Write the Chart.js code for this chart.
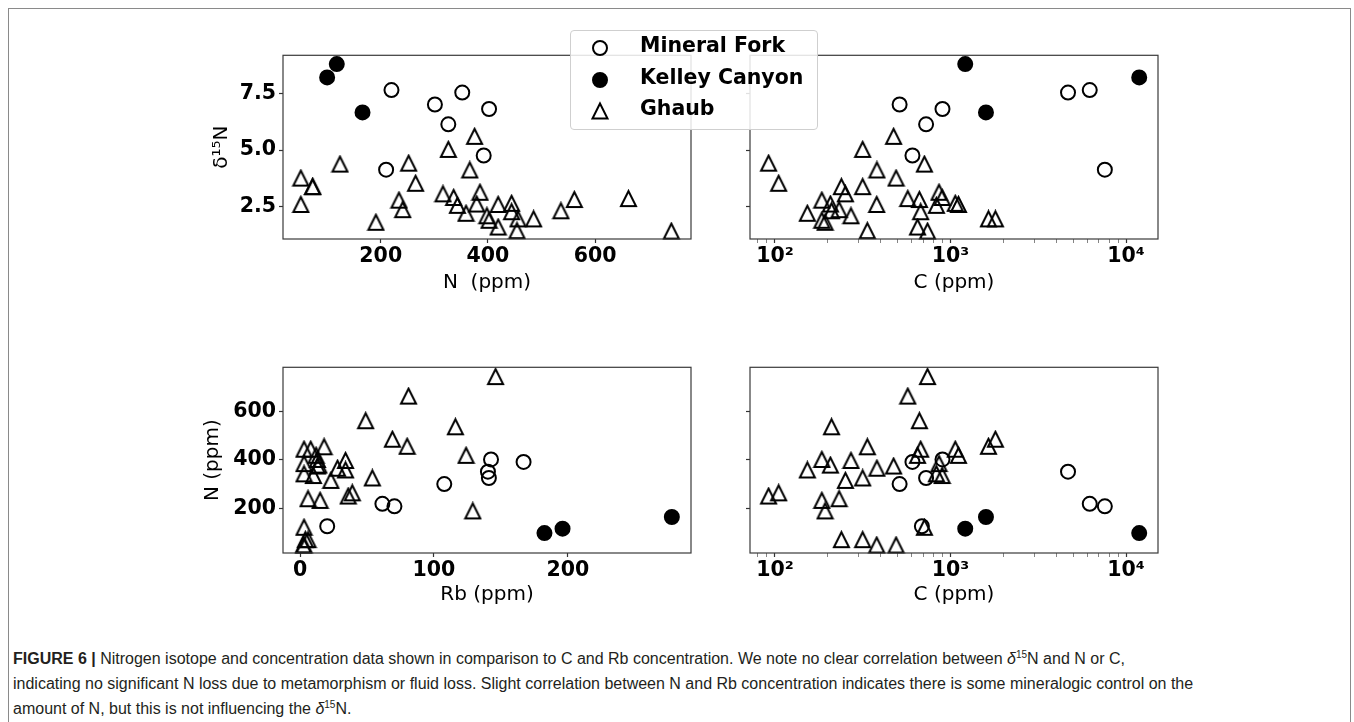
<!DOCTYPE html>
<html>
<head>
<meta charset="utf-8">
<script src="https://cdn.jsdelivr.net/npm/chart.js@4.4.1/dist/chart.umd.min.js"></script>
<style>
  body { margin: 0; background: #fff; width: 1354px; height: 722px; overflow: hidden; position: relative; }
  #frame { position: absolute; left: 8px; top: 8px; width: 1343px; height: 760px; border: 1.5px solid #8a8a8a; box-sizing: border-box; }
  canvas { position: absolute; }
  #legend { position: absolute; left: 570px; top: 30px; width: 248px; height: 100px; box-sizing: border-box;
            border: 1px solid #cfcfcf; border-radius: 4px; background: rgba(255,255,255,0.85); z-index: 5; }
  #legend .row { position: absolute; left: 0; height: 30px; width: 100%; }
  #legend svg { position: absolute; left: 19px; top: 5px; }
  #legend span { position: absolute; left: 69px; top: 0; line-height: 30px; font: bold 20.5px "DejaVu Sans"; color: #000; white-space: nowrap; }
  #caption { position: absolute; left: 13px; top: 646px; font: 16px "Liberation Sans"; line-height: 25px; white-space: nowrap; color: #231f20; }
  #caption sup { font-size: 10px; line-height: 0; }
</style>
</head>
<body>
<div id="frame"></div>
<canvas id="nd15n" width="504" height="270" style="left:196px;top:40px"></canvas>
<canvas id="cd15n" width="470" height="270" style="left:700px;top:40px"></canvas>
<canvas id="rbn" width="504" height="270" style="left:196px;top:352px"></canvas>
<canvas id="cn" width="470" height="270" style="left:700px;top:352px"></canvas>
<div id="legend"></div>
<div id="caption"><b>FIGURE 6 |</b> Nitrogen isotope and concentration data shown in comparison to C and Rb concentration. We note no clear correlation between <i>δ</i><sup>15</sup>N and N or C,<br>indicating no significant N loss due to metamorphism or fluid loss. Slight correlation between N and Rb concentration indicates there is some mineralogic control on the<br>amount of N, but this is not influencing the <i>δ</i><sup>15</sup>N.</div>

<script>
// series names (legend order)
const seriesNames = ["Mineral Fork", "Kelley Canyon", "Ghaub"];

// Mineral Fork samples (null = not measured)
const mfN    = [220, 301, 352, 402, 326, 392, 210, 128];
const mfD15N = [7.66, 7.02, 7.55, 6.82, 6.14, 4.76, 4.13, null];
const mfC    = [6210, 513, 4670, 900, 726, 607, 7570, 687];
const mfRb   = [61.5, 107.7, 140.3, 142.6, 141, 166.9, 70.5, 20.3];

// Kelley Canyon samples
const kcN    = [100, 118, 166];
const kcD15N = [8.22, 8.81, 6.67];
const kcC    = [11880, 1213, 1592];
const kcRb   = [182.5, 196, 277.6];

// Ghaub samples
const ghN    = [742, 662, 561, 536, 485, 456, 454, 444, 444, 419, 419, 398, 402, 379, 366, 375, 359, 316, 326, 343, 336, 385, 252, 265, 234, 241, 191, 124, 73, 73, 51, 51];
const ghD15N = [1.41, 2.85, 2.81, 2.31, 1.95, 1.95, 1.43, 2.27, 2.64, 2.59, 1.59, 2.09, 1.89, 2.61, 4.12, 5.61, 2.20, 3.06, 5.03, 2.55, 2.90, 3.13, 4.42, 3.53, 2.78, 2.36, 1.80, 4.38, 3.38, 3.38, 2.59, 3.76];
const ghC    = [740, 571, 665, 210, 1802, 1645, 336, 676, 1065, 1110, 649, 271, 185, 207, 381, 474, 153, 252, 316, 831, 896, 860, 92, 105, 185, 232, 193, 710, 239, 316, 380, 490];
const ghRb   = [146, 81, 49, 116, 69, 80, 18, 3, 8, 124, 12, 34, 13, 14, 28, 13, 34, 23, 54, 3, 10, 3, 36, 39, 15, 6, 129, 3, 4, 6, 2.5, 3];

// tick values
const d15nTicks = [2.5, 5.0, 7.5];
const nTicks    = [200, 400, 600];
const rbTicks   = [0, 100, 200];
const cTicks    = [80, 90, 100, 200, 300, 400, 500, 600, 700, 800, 900, 1000, 2000, 3000, 4000, 5000, 6000, 7000, 8000, 9000, 10000];
const cLabels   = { 100: "10²", 1000: "10³", 10000: "10⁴" };

// axis ranges
const nRange    = [17.7, 778.6];
const d15nRange = [1.06, 9.2];
const cRange    = [72.1, 15200];
const rbRange   = [-12.7, 291.9];
const nyRange   = [18.4, 780];

// matplotlib-like open triangle marker
function triangleMarker() {
  const c = document.createElement("canvas");
  c.width = 19; c.height = 19;
  const g = c.getContext("2d");
  g.lineWidth = 2;
  g.strokeStyle = "#000";
  g.lineJoin = "miter";
  g.beginPath();
  g.moveTo(9.5, 2);
  g.lineTo(2, 17);
  g.lineTo(17, 17);
  g.closePath();
  g.stroke();
  return c;
}
const triImg = triangleMarker();

function pairs(xs, ys) {
  return xs.map((x, i) => ({ x: x, y: ys[i] })).filter(p => p.x != null && p.y != null);
}

const tickFont  = { family: "DejaVu Sans", size: 20.5, weight: "bold" };
const titleFont = { family: "DejaVu Sans", size: 20 };

// draws the full box around the plot area
const boxPlugin = {
  id: "box",
  afterDraw(chart) {
    const a = chart.chartArea;
    const ctx = chart.ctx;
    ctx.save();
    ctx.strokeStyle = "#3a3a3a";
    ctx.lineWidth = 1.2;
    ctx.strokeRect(a.left, a.top, a.right - a.left, a.bottom - a.top);
    ctx.restore();
  }
};

function axis(opt) {
  const isX = opt.pos === "x";
  return {
    type: opt.log ? "logarithmic" : "linear",
    position: isX ? "bottom" : "left",
    min: opt.range[0],
    max: opt.range[1],
    afterBuildTicks: (s) => {
      s.ticks = opt.ticks.map(v => ({ value: v, major: !opt.log || cLabels[v] !== undefined }));
    },
    afterFit: (s) => {
      if (isX) s.height = opt.size; else s.width = opt.size;
    },
    grid: {
      drawOnChartArea: false,
      drawTicks: true,
      tickLength: 4,
      tickColor: (c) => (c.tick && c.tick.major ? "#333" : "#666"),
      tickWidth: (c) => (c.tick && c.tick.major ? 1.2 : 0.8)
    },
    border: { display: false },
    ticks: {
      color: "#000",
      font: tickFont,
      padding: opt.pad,
      autoSkip: false,
      maxRotation: 0,
      callback: opt.label
    },
    title: {
      display: !!opt.title,
      text: opt.title || "",
      color: "#000",
      font: titleFont,
      padding: { top: 4, bottom: 4 }
    }
  };
}

function datasets(mfX, mfY, kcX, kcY, ghX, ghY) {
  return [
    { label: seriesNames[0], data: pairs(mfX, mfY), pointStyle: "circle", pointRadius: 7,
      pointBorderWidth: 2, pointBorderColor: "#000", pointBackgroundColor: "rgba(0,0,0,0)", clip: false },
    { label: seriesNames[1], data: pairs(kcX, kcY), pointStyle: "circle", pointRadius: 7,
      pointBorderWidth: 2, pointBorderColor: "#000", pointBackgroundColor: "#000", clip: false },
    { label: seriesNames[2], data: pairs(ghX, ghY), pointStyle: triImg, pointRadius: 8,
      pointBorderWidth: 0, clip: false }
  ];
}

function panel(id, data, xOpt, yOpt, padding) {
  new Chart(document.getElementById(id), {
    type: "scatter",
    data: { datasets: data },
    options: {
      responsive: false,
      animation: false,
      devicePixelRatio: 1,
      layout: { padding: padding },
      plugins: { legend: { display: false }, tooltip: { enabled: false } },
      scales: { x: axis(xOpt), y: axis(yOpt) }
    },
    plugins: [boxPlugin]
  });
}

const noLabel = () => "";
const logLabel = (v) => cLabels[v] || "";

// top left: d15N vs N
panel("nd15n",
  datasets(mfN, mfD15N, kcN, kcD15N, ghN, ghD15N),
  { pos: "x", range: nRange, ticks: nTicks, size: 60, pad: 1, title: "N  (ppm)", label: (v) => String(v) },
  { pos: "y", range: d15nRange, ticks: d15nTicks, size: 77, pad: 3, title: "δ¹⁵N", label: (v) => v.toFixed(1) },
  { left: 10, top: 10, right: 8, bottom: 11 });

// top right: d15N vs C
panel("cd15n",
  datasets(mfC, mfD15N, kcC, kcD15N, ghC, ghD15N),
  { pos: "x", log: true, range: cRange, ticks: cTicks, size: 60, pad: 1, title: "C (ppm)", label: logLabel },
  { pos: "y", range: d15nRange, ticks: d15nTicks, size: 40, pad: 3, label: noLabel },
  { left: 10, top: 10, right: 12, bottom: 11 });

// bottom left: N vs Rb
panel("rbn",
  datasets(mfRb, mfN, kcRb, kcN, ghRb, ghN),
  { pos: "x", range: rbRange, ticks: rbTicks, size: 58, pad: 1, title: "Rb (ppm)", label: (v) => String(v) },
  { pos: "y", range: nyRange, ticks: nTicks, size: 86, pad: 3, title: "N (ppm)", label: (v) => String(v) },
  { left: 1, top: 10, right: 8, bottom: 11 });

// bottom right: N vs C
panel("cn",
  datasets(mfC, mfN, kcC, kcN, ghC, ghN),
  { pos: "x", log: true, range: cRange, ticks: cTicks, size: 58, pad: 1, title: "C (ppm)", label: logLabel },
  { pos: "y", range: nyRange, ticks: nTicks, size: 40, pad: 3, label: noLabel },
  { left: 10, top: 10, right: 12, bottom: 11 });

// legend
const legendMarkers = [
  '<circle cx="10" cy="10" r="7" fill="none" stroke="#000" stroke-width="2"/>',
  '<circle cx="10" cy="10" r="7" fill="#000" stroke="#000" stroke-width="2"/>',
  '<polygon points="10,2.5 2.5,17.5 17.5,17.5" fill="none" stroke="#000" stroke-width="2"/>'
];
const legendTops = [2, 34, 65];
const legendEl = document.getElementById("legend");
seriesNames.forEach((name, i) => {
  const row = document.createElement("div");
  row.className = "row";
  row.style.top = legendTops[i] + "px";
  row.innerHTML = '<svg width="20" height="20">' + legendMarkers[i] + '</svg><span>' + name + '</span>';
  legendEl.appendChild(row);
});
</script>
</body>
</html>
